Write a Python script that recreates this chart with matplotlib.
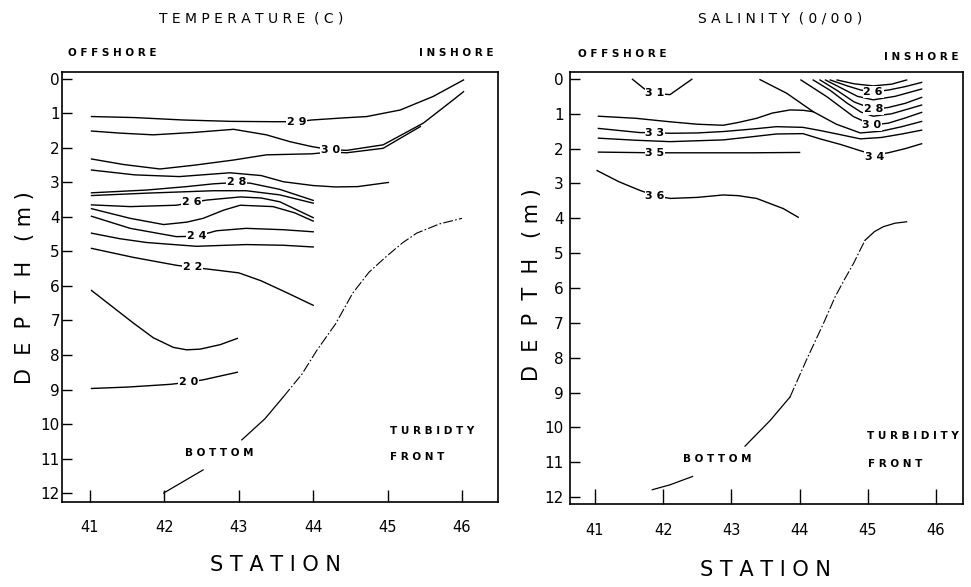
import matplotlib
matplotlib.use("Agg")
import matplotlib.pyplot as plt

stations = [41, 42, 43, 44, 45, 46]
depths = list(range(13))

# temperature isotherms, (station, depth) pairs along each line
t29 = [(41.02, 1.09), (41.6, 1.12), (42.25, 1.19), (42.9, 1.23), (43.5, 1.24), (43.78, 1.24),
       (43.98, 1.19), (44.4, 1.13), (44.72, 1.09), (45.17, 0.90), (45.61, 0.51), (46.02, 0.03)]
t30a = [(41.02, 1.51), (41.4, 1.57), (41.85, 1.62), (42.4, 1.55), (42.93, 1.46), (43.37, 1.62),
        (43.69, 1.82), (43.98, 1.96), (44.23, 2.05), (44.45, 2.07), (44.94, 1.91), (45.48, 1.28),
        (45.88, 0.61), (46.02, 0.37)]
t30b = [(41.02, 2.32), (41.45, 2.48), (41.94, 2.61), (42.4, 2.5), (42.93, 2.35), (43.37, 2.2),
        (43.98, 2.17), (44.23, 2.12), (44.45, 2.14), (44.94, 2.01), (45.44, 1.38)]
t28u = [(41.02, 2.64), (41.6, 2.78), (42.2, 2.83), (42.88, 2.72), (43.3, 2.8), (43.6, 2.98),
        (44.0, 3.09), (44.3, 3.13), (44.6, 3.12), (45.01, 3.0)]
t28 = [(41.02, 3.30), (41.76, 3.22), (42.3, 3.12), (42.66, 3.04), (42.97, 3.0), (43.15, 3.02),
       (43.55, 3.2), (44.0, 3.52)]
t27 = [(41.02, 3.38), (41.76, 3.31), (42.66, 3.24), (43.1, 3.24), (43.55, 3.36), (44.0, 3.6)]
t26 = [(41.02, 3.65), (41.54, 3.70), (42.16, 3.66), (42.37, 3.58), (42.57, 3.51), (43.02, 3.42),
       (43.3, 3.45), (43.55, 3.56), (44.0, 4.02)]
t25 = [(41.02, 3.76), (41.54, 4.04), (41.99, 4.22), (42.3, 4.15), (42.52, 4.04), (42.8, 3.8),
       (43.02, 3.66), (43.46, 3.70), (43.75, 3.88), (44.0, 4.12)]
t24 = [(41.02, 3.98), (41.54, 4.33), (42.16, 4.57), (42.43, 4.56), (42.7, 4.40), (43.1, 4.33),
       (43.6, 4.37), (44.0, 4.43)]
t23 = [(41.02, 4.47), (41.4, 4.63), (41.76, 4.74), (42.43, 4.85), (43.1, 4.8), (43.6, 4.82),
       (44.0, 4.87)]
t22 = [(41.02, 4.91), (41.58, 5.17), (42.16, 5.40), (42.38, 5.46), (42.66, 5.53), (43.0, 5.62),
       (43.3, 5.85), (43.65, 6.2), (44.0, 6.56)]
t21 = [(41.02, 6.13), (41.3, 6.6), (41.58, 7.07), (41.85, 7.5), (42.12, 7.78), (42.3, 7.85),
       (42.48, 7.83), (42.75, 7.7), (42.98, 7.52)]
t20 = [(41.02, 8.97), (41.5, 8.93), (42.08, 8.85), (42.32, 8.79), (42.52, 8.72), (42.98, 8.5)]
temp_lines = [t29, t30a, t30b, t28u, t28, t27, t26, t25, t24, t23, t22, t21, t20]
temp_labels = [("2 9", 43.78, 1.24), ("3 0", 44.23, 2.06), ("2 8", 42.97, 3.0),
               ("2 6", 42.37, 3.58), ("2 4", 42.43, 4.56), ("2 2", 42.38, 5.46),
               ("2 0", 42.32, 8.79)]
temp_bottom_solid = [[(41.99, 12.0), (42.52, 11.33)],
                     [(43.04, 10.46), (43.35, 9.85), (43.6, 9.21)]]
temp_bottom_dash = [(43.6, 9.21), (43.85, 8.55), (44.05, 7.86), (44.3, 7.1), (44.53, 6.21),
                    (44.75, 5.6), (44.98, 5.15), (45.2, 4.75), (45.39, 4.47), (45.7, 4.2),
                    (46.0, 4.04)]

# salinity isohalines
s31 = [(41.55, 0.01), (41.72, 0.28), (41.88, 0.42), (42.1, 0.45), (42.42, 0.01)]
s32 = [(41.05, 1.07), (41.6, 1.13), (42.1, 1.23), (42.5, 1.3), (42.88, 1.33), (43.1, 1.25),
       (43.37, 1.13), (43.6, 0.98), (43.86, 0.89), (44.05, 0.9), (44.2, 0.94), (44.54, 1.3),
       (44.89, 1.55), (45.2, 1.5), (45.5, 1.37), (45.79, 1.22)]
s32d = [(43.42, 0.02), (43.81, 0.41), (44.2, 0.94)]
s33 = [(41.05, 1.42), (41.66, 1.54), (41.88, 1.54), (42.1, 1.56), (42.5, 1.55), (42.88, 1.51),
       (43.3, 1.44), (43.66, 1.37), (44.05, 1.39), (44.3, 1.48), (44.6, 1.6), (44.89, 1.72),
       (45.2, 1.68), (45.5, 1.58), (45.79, 1.47)]
s34 = [(41.05, 1.70), (41.6, 1.76), (42.1, 1.80), (42.88, 1.75), (43.3, 1.66), (43.66, 1.58),
       (44.05, 1.57), (44.3, 1.72), (44.6, 1.88), (44.89, 2.06), (45.1, 2.18), (45.3, 2.12),
       (45.55, 2.0), (45.79, 1.86)]
s35 = [(41.05, 2.10), (41.88, 2.12), (42.5, 2.12), (43.3, 2.12), (44.0, 2.11)]
s36 = [(41.03, 2.63), (41.35, 2.95), (41.66, 3.2), (41.88, 3.35), (42.1, 3.43), (42.5, 3.4),
       (42.88, 3.33), (43.1, 3.35), (43.37, 3.43), (43.76, 3.72), (43.98, 3.97)]
s30 = [(44.02, 0.03), (44.4, 0.51), (44.79, 1.08), (45.06, 1.32), (45.3, 1.27), (45.55, 1.12),
       (45.79, 0.96)]
s29 = [(44.20, 0.03), (44.45, 0.33), (44.7, 0.7), (44.9, 0.95), (45.08, 1.07), (45.35, 1.0),
       (45.79, 0.75)]
s28 = [(44.30, 0.03), (44.55, 0.33), (44.8, 0.66), (45.08, 0.87), (45.3, 0.82), (45.55, 0.7),
       (45.79, 0.53)]
s27 = [(44.38, 0.03), (44.6, 0.25), (44.85, 0.5), (45.08, 0.6), (45.4, 0.5), (45.79, 0.29)]
s26 = [(44.45, 0.03), (44.7, 0.2), (44.9, 0.32), (45.08, 0.37), (45.3, 0.32), (45.55, 0.22),
       (45.79, 0.10)]
s25 = [(44.55, 0.03), (44.8, 0.14), (45.08, 0.2), (45.35, 0.15), (45.57, 0.03)]
sal_lines = [s31, s32, s32d, s33, s34, s35, s36, s30, s29, s28, s27, s26, s25]
sal_labels = [("3 1", 41.88, 0.40), ("3 3", 41.88, 1.54), ("3 5", 41.88, 2.12),
              ("3 6", 41.88, 3.36), ("2 6", 45.08, 0.37), ("2 8", 45.08, 0.87),
              ("3 0", 45.06, 1.33), ("3 4", 45.1, 2.24)]
sal_bottom_solid = [[(41.84, 11.79), (42.1, 11.65), (42.43, 11.41)],
                    [(43.2, 10.54), (43.57, 9.80), (43.86, 9.13)],
                    [(44.96, 4.63), (45.1, 4.38), (45.23, 4.24), (45.4, 4.14), (45.57, 4.10)]]
sal_bottom_dash = [(43.86, 9.13), (44.1, 8.07), (44.35, 7.02), (44.52, 6.26), (44.66, 5.75),
                   (44.79, 5.30), (44.96, 4.63)]


def draw_panel(ax, lines, labels, solid, dash, xlim, ylim, xtick_len, xpad, ypad):
    for pts in lines:
        xs, ys = zip(*pts)
        ax.plot(xs, ys, color="black", lw=1.0)
    for pts in solid:
        xs, ys = zip(*pts)
        ax.plot(xs, ys, color="black", lw=0.9)
    xs, ys = zip(*dash)
    ax.plot(xs, ys, color="black", lw=0.8, linestyle=(0, (9, 2, 1.5, 2)))
    for txt, x, y in labels:
        ax.text(x, y, txt, ha="center", va="center", fontsize=8, fontweight="bold",
                bbox=dict(fc="white", ec="none", pad=0.6))
    ax.set_xlim(*xlim)
    ax.set_ylim(*ylim)
    ax.set_xticks(stations)
    ax.set_yticks(depths)
    ax.tick_params(axis="x", direction="in", length=xtick_len, width=1.0, pad=xpad, labelsize=10.5)
    ax.tick_params(axis="y", direction="in", length=7, width=1.0, pad=ypad, labelsize=11)
    for sp in ax.spines.values():
        sp.set_linewidth(1.2)


fig = plt.figure(figsize=(9.71, 5.87), dpi=100)
ax1 = fig.add_axes([0.0639, 0.1448, 0.449, 0.7325])
ax2 = fig.add_axes([0.587, 0.1414, 0.4047, 0.736])

draw_panel(ax1, temp_lines, temp_labels, temp_bottom_solid, temp_bottom_dash,
           (40.624, 46.484), (12.26, -0.2), 9, 13, 1.5)
draw_panel(ax2, sal_lines, sal_labels, sal_bottom_solid, sal_bottom_dash,
           (40.633, 46.396), (12.2, -0.2), 11, 13.5, 4.5)

small = dict(fontsize=7.5, fontweight="bold")
ax1.text(42.28, 10.83, "B O T T O M", ha="left", va="center", **small)
ax1.text(45.03, 10.2, "T U R B I D T Y", ha="left", va="center", **small)
ax1.text(45.03, 10.95, "F R O N T", ha="left", va="center", **small)
ax2.text(42.29, 10.92, "B O T T O M", ha="left", va="center", **small)
ax2.text(44.99, 10.26, "T U R B I D I T Y", ha="left", va="center", **small)
ax2.text(45.0, 11.06, "F R O N T", ha="left", va="center", **small)

W, H = 971.0, 587.0
fig.text(251 / W, 1 - 19 / H, "T E M P E R A T U R E  ( C )", ha="center", va="center", fontsize=10)
fig.text(780 / W, 1 - 18 / H, "S A L I N I T Y  ( 0 / 0 0 )", ha="center", va="center", fontsize=10)
fig.text(68 / W, 1 - 53 / H, "O F F S H O R E", ha="left", va="center", **small)
fig.text(493 / W, 1 - 53 / H, "I N S H O R E", ha="right", va="center", **small)
fig.text(578 / W, 1 - 54 / H, "O F F S H O R E", ha="left", va="center", **small)
fig.text(958 / W, 1 - 57 / H, "I N S H O R E", ha="right", va="center", **small)
fig.text(275 / W, 1 - 565 / H, "S T A T I O N", ha="center", va="center", fontsize=15)
fig.text(765 / W, 1 - 570 / H, "S T A T I O N", ha="center", va="center", fontsize=15)
fig.text(25 / W, 1 - 288 / H, "D  E  P  T  H   ( m )", ha="center", va="center",
         rotation=90, fontsize=15)
fig.text(532 / W, 1 - 285 / H, "D  E  P  T  H   ( m )", ha="center", va="center",
         rotation=90, fontsize=15)

fig.savefig("out.png", dpi=100)
